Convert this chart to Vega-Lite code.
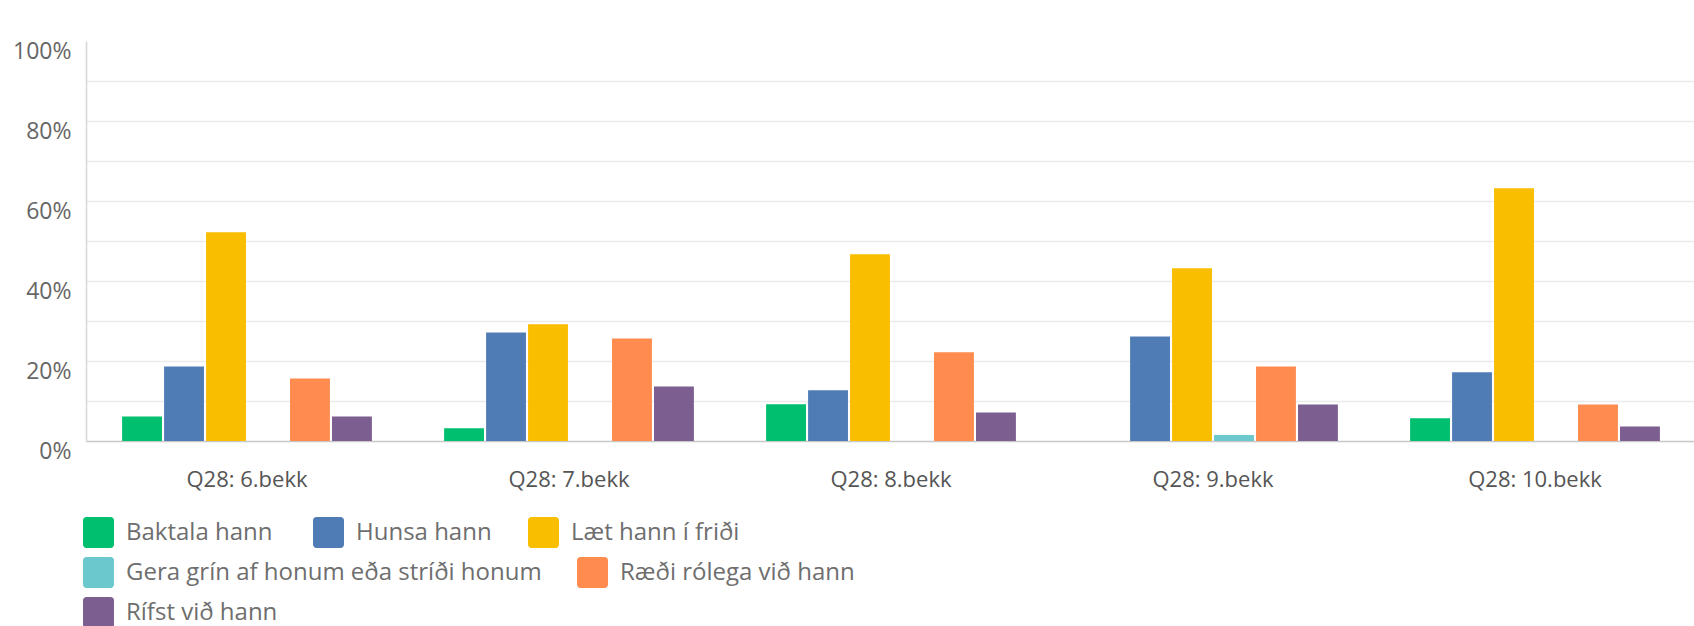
{
  "$schema": "https://vega.github.io/schema/vega-lite/v6.json",
  "width": 1610,
  "height": 400,
  "autosize": {"type": "none"},
  "padding": {"left": 86, "top": 41, "right": 0, "bottom": 185},
  "background": "white",
  "data": {
    "values": [
      {"grade": "Q28: 6.bekk", "answer": "Baktala hann", "pct": 0.061},
      {"grade": "Q28: 6.bekk", "answer": "Hunsa hann", "pct": 0.186},
      {"grade": "Q28: 6.bekk", "answer": "Læt hann í friði", "pct": 0.522},
      {"grade": "Q28: 6.bekk", "answer": "Gera grín af honum eða stríði honum", "pct": 0},
      {"grade": "Q28: 6.bekk", "answer": "Ræði rólega við hann", "pct": 0.156},
      {"grade": "Q28: 6.bekk", "answer": "Rífst við hann", "pct": 0.061},
      {"grade": "Q28: 7.bekk", "answer": "Baktala hann", "pct": 0.032},
      {"grade": "Q28: 7.bekk", "answer": "Hunsa hann", "pct": 0.271},
      {"grade": "Q28: 7.bekk", "answer": "Læt hann í friði", "pct": 0.292},
      {"grade": "Q28: 7.bekk", "answer": "Gera grín af honum eða stríði honum", "pct": 0},
      {"grade": "Q28: 7.bekk", "answer": "Ræði rólega við hann", "pct": 0.256},
      {"grade": "Q28: 7.bekk", "answer": "Rífst við hann", "pct": 0.136},
      {"grade": "Q28: 8.bekk", "answer": "Baktala hann", "pct": 0.092},
      {"grade": "Q28: 8.bekk", "answer": "Hunsa hann", "pct": 0.127},
      {"grade": "Q28: 8.bekk", "answer": "Læt hann í friði", "pct": 0.467},
      {"grade": "Q28: 8.bekk", "answer": "Gera grín af honum eða stríði honum", "pct": 0},
      {"grade": "Q28: 8.bekk", "answer": "Ræði rólega við hann", "pct": 0.222},
      {"grade": "Q28: 8.bekk", "answer": "Rífst við hann", "pct": 0.071},
      {"grade": "Q28: 9.bekk", "answer": "Baktala hann", "pct": 0},
      {"grade": "Q28: 9.bekk", "answer": "Hunsa hann", "pct": 0.261},
      {"grade": "Q28: 9.bekk", "answer": "Læt hann í friði", "pct": 0.432},
      {"grade": "Q28: 9.bekk", "answer": "Gera grín af honum eða stríði honum", "pct": 0.015},
      {"grade": "Q28: 9.bekk", "answer": "Ræði rólega við hann", "pct": 0.186},
      {"grade": "Q28: 9.bekk", "answer": "Rífst við hann", "pct": 0.091},
      {"grade": "Q28: 10.bekk", "answer": "Baktala hann", "pct": 0.057},
      {"grade": "Q28: 10.bekk", "answer": "Hunsa hann", "pct": 0.172},
      {"grade": "Q28: 10.bekk", "answer": "Læt hann í friði", "pct": 0.632},
      {"grade": "Q28: 10.bekk", "answer": "Gera grín af honum eða stríði honum", "pct": 0},
      {"grade": "Q28: 10.bekk", "answer": "Ræði rólega við hann", "pct": 0.091},
      {"grade": "Q28: 10.bekk", "answer": "Rífst við hann", "pct": 0.036}
    ]
  },
  "encoding": {
    "x": {
      "field": "grade", "type": "nominal",
      "scale": {"domain": ["Q28: 6.bekk", "Q28: 7.bekk", "Q28: 8.bekk", "Q28: 9.bekk", "Q28: 10.bekk"], "paddingInner": 0, "paddingOuter": 0},
      "axis": {"title": null, "labelAngle": 0, "ticks": false, "labelPadding": 28, "labelFontSize": 22, "labelColor": "#555555", "domainColor": "#c8c8c8", "domainWidth": 1.5, "grid": false}
    },
    "xOffset": {
      "field": "answer", "type": "nominal",
      "scale": {"domain": ["Baktala hann", "Hunsa hann", "Læt hann í friði", "Gera grín af honum eða stríði honum", "Ræði rólega við hann", "Rífst við hann"], "paddingInner": 0.05, "paddingOuter": 0.86}
    },
    "y": {
      "field": "pct", "type": "quantitative",
      "scale": {"domain": [0, 1], "nice": false},
      "axis": {
        "title": null,
        "values": [0, 0.1, 0.2, 0.3, 0.4, 0.5, 0.6, 0.7, 0.8, 0.9, 1],
        "labelExpr": "round(datum.value*10) % 2 == 0 ? format(datum.value, '.0%') : ''",
        "ticks": false,
        "labelPadding": 15,
        "labelOffset": 10,
        "labelFontSize": 23,
        "labelColor": "#666666",
        "domainColor": "#d6d6d6",
        "domainWidth": 1.5,
        "grid": true,
        "gridColor": "#ebebeb",
        "gridWidth": 1.5,
        "gridOpacity": {"condition": {"test": "datum.value < 0.05 || datum.value > 0.95", "value": 0}, "value": 1}
      }
    }
  },
  "layer": [
    {
      "transform": [{"filter": "datum.answer == 'Baktala hann'"}],
      "mark": {"type": "bar"},
      "encoding": {"color": {"field": "answer", "type": "nominal",
        "scale": {"domain": ["Baktala hann", "Hunsa hann", "Læt hann í friði", "Gera grín af honum eða stríði honum", "Ræði rólega við hann", "Rífst við hann"], "range": ["#00bf6f", "#507cb6", "#f9be00", "#6bc8cd", "#ff8b4f", "#7d5e90"]},
        "legend": {"values": ["Baktala hann"], "orient": "none", "legendX": -3, "legendY": 476, "title": null}}}
    },
    {
      "transform": [{"filter": "datum.answer == 'Hunsa hann'"}],
      "mark": {"type": "bar"},
      "encoding": {"color": {"field": "answer", "type": "nominal",
        "scale": {"domain": ["Baktala hann", "Hunsa hann", "Læt hann í friði", "Gera grín af honum eða stríði honum", "Ræði rólega við hann", "Rífst við hann"], "range": ["#00bf6f", "#507cb6", "#f9be00", "#6bc8cd", "#ff8b4f", "#7d5e90"]},
        "legend": {"values": ["Hunsa hann"], "orient": "none", "legendX": 227, "legendY": 476, "title": null}}}
    },
    {
      "transform": [{"filter": "datum.answer == 'Læt hann í friði'"}],
      "mark": {"type": "bar"},
      "encoding": {"color": {"field": "answer", "type": "nominal",
        "scale": {"domain": ["Baktala hann", "Hunsa hann", "Læt hann í friði", "Gera grín af honum eða stríði honum", "Ræði rólega við hann", "Rífst við hann"], "range": ["#00bf6f", "#507cb6", "#f9be00", "#6bc8cd", "#ff8b4f", "#7d5e90"]},
        "legend": {"values": ["Læt hann í friði"], "orient": "none", "legendX": 442, "legendY": 476, "title": null}}}
    },
    {
      "transform": [{"filter": "datum.answer == 'Gera grín af honum eða stríði honum'"}],
      "mark": {"type": "bar"},
      "encoding": {"color": {"field": "answer", "type": "nominal",
        "scale": {"domain": ["Baktala hann", "Hunsa hann", "Læt hann í friði", "Gera grín af honum eða stríði honum", "Ræði rólega við hann", "Rífst við hann"], "range": ["#00bf6f", "#507cb6", "#f9be00", "#6bc8cd", "#ff8b4f", "#7d5e90"]},
        "legend": {"values": ["Gera grín af honum eða stríði honum"], "orient": "none", "legendX": -3, "legendY": 516, "title": null}}}
    },
    {
      "transform": [{"filter": "datum.answer == 'Ræði rólega við hann'"}],
      "mark": {"type": "bar"},
      "encoding": {"color": {"field": "answer", "type": "nominal",
        "scale": {"domain": ["Baktala hann", "Hunsa hann", "Læt hann í friði", "Gera grín af honum eða stríði honum", "Ræði rólega við hann", "Rífst við hann"], "range": ["#00bf6f", "#507cb6", "#f9be00", "#6bc8cd", "#ff8b4f", "#7d5e90"]},
        "legend": {"values": ["Ræði rólega við hann"], "orient": "none", "legendX": 491, "legendY": 516, "title": null}}}
    },
    {
      "transform": [{"filter": "datum.answer == 'Rífst við hann'"}],
      "mark": {"type": "bar"},
      "encoding": {"color": {"field": "answer", "type": "nominal",
        "scale": {"domain": ["Baktala hann", "Hunsa hann", "Læt hann í friði", "Gera grín af honum eða stríði honum", "Ræði rólega við hann", "Rífst við hann"], "range": ["#00bf6f", "#507cb6", "#f9be00", "#6bc8cd", "#ff8b4f", "#7d5e90"]},
        "legend": {"values": ["Rífst við hann"], "orient": "none", "legendX": -3, "legendY": 556, "title": null}}}
    }
  ],
  "resolve": {"legend": {"color": "independent"}},
  "config": {
    "view": {"stroke": null},
    "font": "Open Sans",
    "axis": {"labelFont": "Open Sans"},
    "legend": {
      "labelFont": "Open Sans",
      "labelFontSize": 24,
      "labelColor": "#6e6e6e",
      "labelOffset": 12,
      "labelLimit": 0,
      "padding": 0,
      "symbolSize": 961,
      "symbolStrokeWidth": 0,
      "symbolOpacity": 1,
      "symbolType": "M-0.78,-1H0.78A0.22,0.22,0,0,1,1,-0.78V0.78A0.22,0.22,0,0,1,0.78,1H-0.78A0.22,0.22,0,0,1,-1,0.78V-0.78A0.22,0.22,0,0,1,-0.78,-1Z"
    }
  }
}
